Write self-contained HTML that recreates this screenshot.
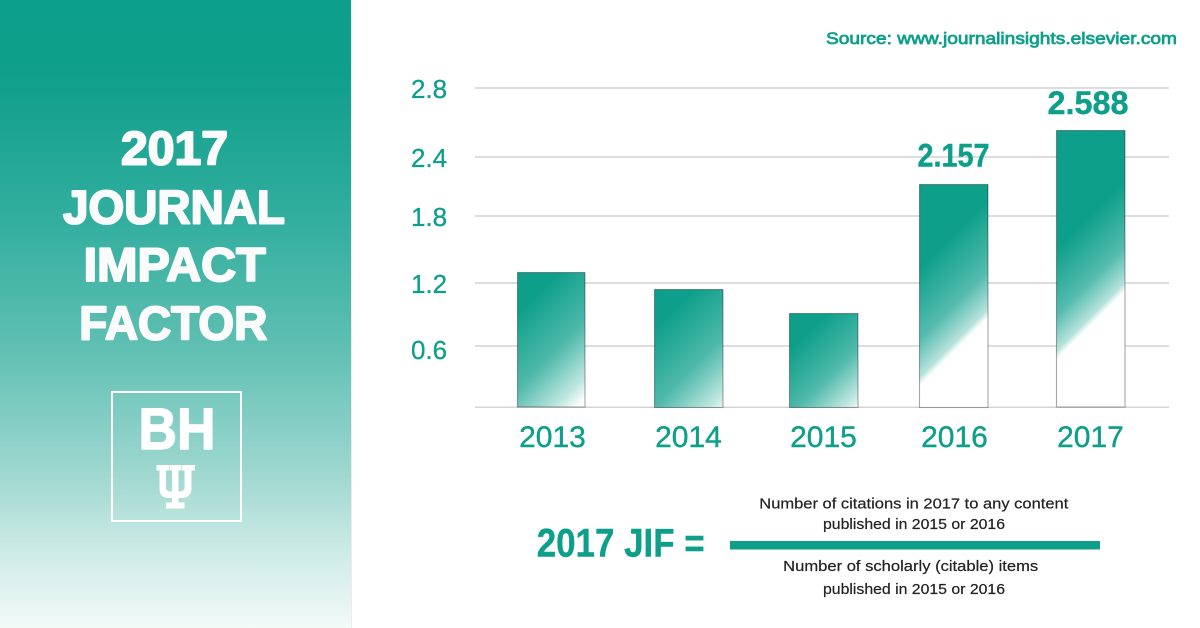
<!DOCTYPE html>
<html>
<head>
<meta charset="utf-8">
<style>
  html, body { margin:0; padding:0; background:#ffffff; }
  body { width:1200px; height:628px; overflow:hidden; }
  svg { display:block; }
  text { font-family: "Liberation Sans", "DejaVu Sans", sans-serif; }
</style>
</head>
<body>
<svg width="1200" height="628" viewBox="0 0 1200 628" xmlns="http://www.w3.org/2000/svg">
  <defs>
    <linearGradient id="panel" x1="0" y1="0" x2="0" y2="1">
      <stop offset="0" stop-color="#0c9f8b"/>
      <stop offset="0.12" stop-color="#0f9f8b"/>
      <stop offset="0.35" stop-color="#32ae9e"/>
      <stop offset="0.55" stop-color="#5ebfb2"/>
      <stop offset="0.75" stop-color="#9dd7cf"/>
      <stop offset="0.88" stop-color="#cdebe6"/>
      <stop offset="1" stop-color="#f3faf8"/>
    </linearGradient>
    <linearGradient id="g2013" gradientUnits="userSpaceOnUse" x1="415" y1="415" x2="492.5" y2="492.5">
      <stop offset="0" stop-color="#0d9f8a"/>
      <stop offset="0.5" stop-color="#4fb9aa"/>
      <stop offset="0.85" stop-color="#bde6e0"/>
      <stop offset="1" stop-color="#ffffff"/>
    </linearGradient>
    <linearGradient id="g2014" gradientUnits="userSpaceOnUse" x1="492" y1="492" x2="569.5" y2="569.5">
      <stop offset="0" stop-color="#0d9f8a"/>
      <stop offset="0.5" stop-color="#4fb9aa"/>
      <stop offset="0.85" stop-color="#bde6e0"/>
      <stop offset="1" stop-color="#ffffff"/>
    </linearGradient>
    <linearGradient id="g2015" gradientUnits="userSpaceOnUse" x1="570" y1="570" x2="635" y2="635">
      <stop offset="0" stop-color="#0d9f8a"/>
      <stop offset="0.5" stop-color="#4fb9aa"/>
      <stop offset="0.85" stop-color="#bde6e0"/>
      <stop offset="1" stop-color="#ffffff"/>
    </linearGradient>
    <linearGradient id="g2016" gradientUnits="userSpaceOnUse" x1="594" y1="594" x2="653" y2="653">
      <stop offset="0" stop-color="#0d9f8a"/>
      <stop offset="0.6" stop-color="#55bcae"/>
      <stop offset="0.92" stop-color="#b5e2dc"/>
      <stop offset="1" stop-color="#ffffff"/>
    </linearGradient>
    <linearGradient id="g2017" gradientUnits="userSpaceOnUse" x1="653" y1="653" x2="708" y2="708">
      <stop offset="0" stop-color="#0d9f8a"/>
      <stop offset="0.6" stop-color="#55bcae"/>
      <stop offset="0.92" stop-color="#b5e2dc"/>
      <stop offset="1" stop-color="#ffffff"/>
    </linearGradient>
  </defs>

  <!-- left panel -->
  <rect x="0" y="0" width="351" height="628" fill="url(#panel)"/>
  <rect x="351" y="0" width="1" height="628" fill="#ececec"/>

  <g fill="#fbfbfb" stroke="#fbfbfb" stroke-width="2" stroke-linejoin="round" font-weight="700" font-size="47" text-anchor="middle">
    <text x="174.5" y="164.5" textLength="107" lengthAdjust="spacingAndGlyphs">2017</text>
    <text x="174" y="223.5" textLength="222" lengthAdjust="spacingAndGlyphs">JOURNAL</text>
    <text x="174.7" y="281.2" textLength="182" lengthAdjust="spacingAndGlyphs">IMPACT</text>
    <text x="173.3" y="339.5" textLength="188" lengthAdjust="spacingAndGlyphs">FACTOR</text>
  </g>

  <!-- BH logo -->
  <rect x="112" y="392" width="129" height="129" fill="none" stroke="#ffffff" stroke-width="2"/>
  <text x="177" y="449" fill="#ffffff" stroke="#ffffff" stroke-width="1.4" stroke-linejoin="round" font-weight="700" font-size="58" text-anchor="middle" textLength="77" lengthAdjust="spacingAndGlyphs">BH</text>
  <path fill="#ffffff" d="
    M156.5 465 H169 V470.5 H166 V487 Q166 491 170 491.5 L172 491.5 V470.5 H169.5 V465 H181 V470.5 H178.5 V491.5 L180.5 491.5 Q184.5 491 184.5 487 V470.5 H181.5 V465 H195 V470.5 H191.5 V489 Q191 497 183 498 L178.5 498 V502.5 H184.5 V508.5 H166 V502.5 H172 V498 L167.5 498 Q159.5 497 159.5 489 V470.5 H156.5 Z"/>

  <!-- source -->
  <text x="1177" y="44" fill="#0d9f8a" stroke="#0d9f8a" stroke-width="0.75" font-size="17" text-anchor="end" textLength="351" lengthAdjust="spacingAndGlyphs">Source: www.journalinsights.elsevier.com</text>

  <!-- grid -->
  <g fill="#dddddd">
    <rect x="475" y="87" width="694" height="2"/>
    <rect x="475" y="156" width="694" height="2"/>
    <rect x="475" y="215" width="694" height="2"/>
    <rect x="475" y="282" width="694" height="2"/>
    <rect x="475" y="345" width="694" height="2"/>
    <rect x="475" y="406.5" width="694" height="1.5" fill="#d4d4d4"/>
  </g>

  <!-- y labels -->
  <g fill="#0d9f8a" stroke="#0d9f8a" stroke-width="0.3" font-size="26">
    <text x="411" y="98">2.8</text>
    <text x="411" y="167">2.4</text>
    <text x="411" y="226">1.8</text>
    <text x="411" y="293">1.2</text>
    <text x="411" y="359">0.6</text>
  </g>

  <!-- bars -->
  <g stroke="rgba(0,0,0,0.35)" stroke-width="1.1">
    <rect x="517.5" y="272.5" width="67.5" height="134.5" fill="url(#g2013)"/>
    <rect x="654.5" y="289.5" width="68.5" height="118" fill="url(#g2014)"/>
    <rect x="789.5" y="313.5" width="68.5" height="94" fill="url(#g2015)"/>
    <rect x="919.5" y="184.5" width="68.5" height="223" fill="url(#g2016)"/>
    <rect x="1056.5" y="130.5" width="68.5" height="276.5" fill="url(#g2017)"/>
  </g>

  <!-- value labels -->
  <g fill="#0d9f8a" stroke="#0d9f8a" stroke-width="0.4" font-weight="700" font-size="32" text-anchor="middle">
    <text x="953.5" y="166.7" textLength="72" lengthAdjust="spacingAndGlyphs">2.157</text>
    <text x="1088" y="114" textLength="81" lengthAdjust="spacingAndGlyphs">2.588</text>
  </g>

  <!-- x labels -->
  <g fill="#0d9f8a" stroke="#0d9f8a" stroke-width="0.4" font-size="30" text-anchor="middle">
    <text x="552.5" y="447">2013</text>
    <text x="688.5" y="447">2014</text>
    <text x="823.5" y="447">2015</text>
    <text x="954.5" y="447">2016</text>
    <text x="1090.5" y="447">2017</text>
  </g>

  <!-- formula -->
  <text x="536.7" y="556.7" fill="#0d9f8a" stroke="#0d9f8a" stroke-width="0.4" font-weight="700" font-size="40" textLength="168" lengthAdjust="spacingAndGlyphs">2017 JIF =</text>
  <rect x="730" y="541" width="370" height="8.5" fill="#0d9f8a"/>
  <g fill="#222222" stroke="#222222" stroke-width="0.2" font-size="14.5" text-anchor="middle">
    <text x="913.8" y="508.5" textLength="309" lengthAdjust="spacingAndGlyphs">Number of citations in 2017 to any content</text>
    <text x="914" y="529" textLength="182" lengthAdjust="spacingAndGlyphs">published in 2015 or 2016</text>
    <text x="910.7" y="571" textLength="255" lengthAdjust="spacingAndGlyphs">Number of scholarly (citable) items</text>
    <text x="914" y="594" textLength="182" lengthAdjust="spacingAndGlyphs">published in 2015 or 2016</text>
  </g>
</svg>
</body>
</html>
